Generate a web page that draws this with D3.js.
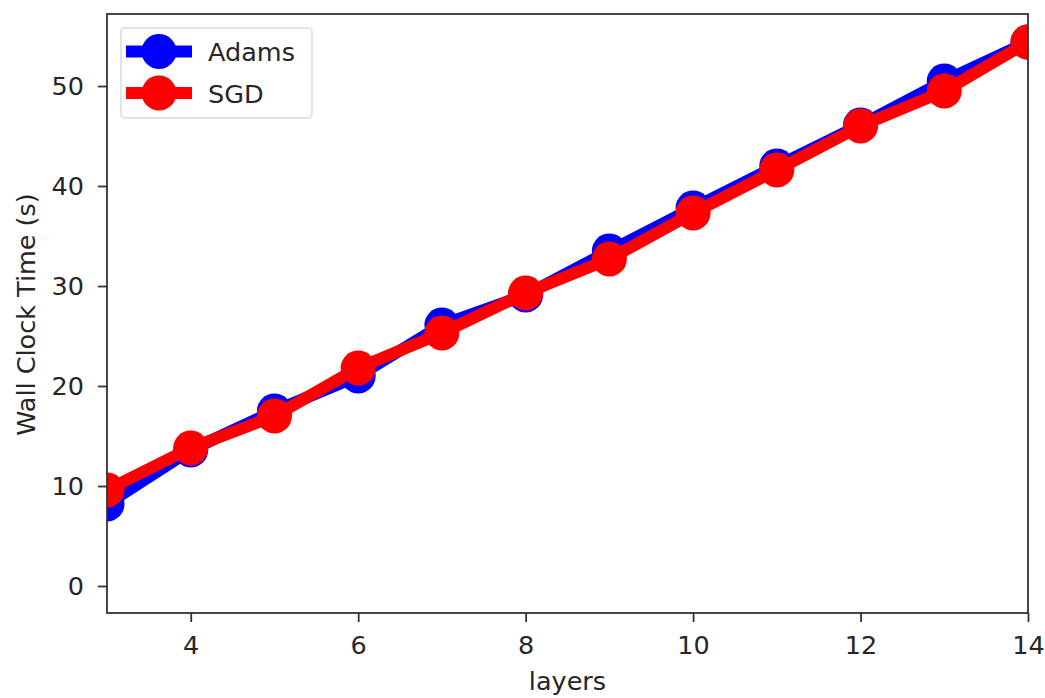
<!DOCTYPE html>
<html>
<head>
<meta charset="utf-8">
<script src="https://cdn.jsdelivr.net/npm/d3@7"></script>
<style>
  html, body { margin: 0; padding: 0; background: #fff; }
  svg { display: block; }
  text { font-family: "DejaVu Sans", sans-serif; fill: #262626; }
</style>
</head>
<body>
<svg id="chart" width="1045" height="698"></svg>
<script>
// Wall clock time per number of layers, two optimizers
const layers = [3, 4, 5, 6, 7, 8, 9, 10, 11, 12, 13, 14];
const adamsTime = [8.2, 13.6, 17.5, 21.0, 26.1, 29.1, 33.5, 37.8, 42.0, 46.1, 50.5, 54.4];
const sgdTime   = [9.6, 13.8, 17.0, 21.8, 25.3, 29.3, 32.7, 37.3, 41.6, 46.0, 49.5, 54.4];
const xTicks = [4, 6, 8, 10, 12, 14];
const yTicks = [0, 10, 20, 30, 40, 50];
const seriesNames = ["Adams", "SGD"];
const seriesColors = ["#0000ff", "#ff0000"];

(function () {
  const svg = d3.select("#chart");
  const m = { left: 107, right: 1028, top: 14, bottom: 613 };
  const fontSize = 25.5;

  const x = d3.scaleLinear().domain([3, 14]).range([m.left, m.right]);
  const y = d3.scaleLinear().domain([-2.7, 57.2]).range([m.bottom, m.top]);

  const clipId = "plot-clip";
  svg.append("defs").append("clipPath").attr("id", clipId)
    .append("rect").attr("x", m.left).attr("y", m.top)
    .attr("width", m.right - m.left).attr("height", m.bottom - m.top);

  const series = [adamsTime, sgdTime];
  const line = d3.line().x((d, i) => x(layers[i])).y(d => y(d));

  series.forEach((vals, si) => {
    const g = svg.append("g").attr("clip-path", `url(#${clipId})`);
    g.append("path")
      .datum(vals)
      .attr("d", line)
      .attr("fill", "none")
      .attr("stroke", seriesColors[si])
      .attr("stroke-width", 12)
      .attr("stroke-linejoin", "round");
    g.selectAll("circle")
      .data(vals)
      .join("circle")
      .attr("cx", (d, i) => x(layers[i]))
      .attr("cy", d => y(d))
      .attr("r", 17.5)
      .attr("fill", seriesColors[si]);
  });

  // Axes
  const xAxis = d3.axisBottom(x).tickValues(xTicks).tickSize(9).tickPadding(14).tickFormat(d3.format("d"));
  const yAxis = d3.axisLeft(y).tickValues(yTicks).tickSize(9).tickPadding(14).tickFormat(d3.format("d"));

  const gx = svg.append("g").attr("transform", `translate(0,${m.bottom})`).call(xAxis);
  const gy = svg.append("g").attr("transform", `translate(${m.left},0)`).call(yAxis);
  [gx, gy].forEach(g => {
    g.select(".domain").remove();
    g.selectAll(".tick line").attr("stroke", "#333").attr("stroke-width", 1.8);
    g.selectAll(".tick text").attr("font-size", fontSize).attr("font-family", "DejaVu Sans, sans-serif").attr("fill", "#262626");
  });

  // Frame
  svg.append("rect")
    .attr("x", m.left).attr("y", m.top)
    .attr("width", m.right - m.left).attr("height", m.bottom - m.top)
    .attr("fill", "none").attr("stroke", "#333").attr("stroke-width", 1.8);

  // Axis labels
  svg.append("text")
    .attr("x", (m.left + m.right) / 2).attr("y", 690)
    .attr("text-anchor", "middle").attr("font-size", fontSize)
    .text("layers");
  svg.append("text")
    .attr("transform", `translate(35,${(m.top + m.bottom) / 2 + 1}) rotate(-90)`)
    .attr("text-anchor", "middle").attr("font-size", fontSize)
    .text("Wall Clock Time (s)");

  // Legend
  const legend = svg.append("g");
  legend.append("rect")
    .attr("x", 121).attr("y", 28).attr("width", 191).attr("height", 90)
    .attr("rx", 4).attr("fill", "#fff").attr("fill-opacity", 0.8)
    .attr("stroke", "#d9d9d9").attr("stroke-width", 1.4);
  seriesNames.forEach((name, i) => {
    const cy = 51.5 + i * 41.5;
    legend.append("line")
      .attr("x1", 126).attr("x2", 192).attr("y1", cy).attr("y2", cy)
      .attr("stroke", seriesColors[i]).attr("stroke-width", 12);
    legend.append("circle")
      .attr("cx", 159).attr("cy", cy).attr("r", 17.5).attr("fill", seriesColors[i]);
    legend.append("text")
      .attr("x", 208).attr("y", cy + 9.5).attr("font-size", fontSize)
      .text(name);
  });
})();
</script>
</body>
</html>
